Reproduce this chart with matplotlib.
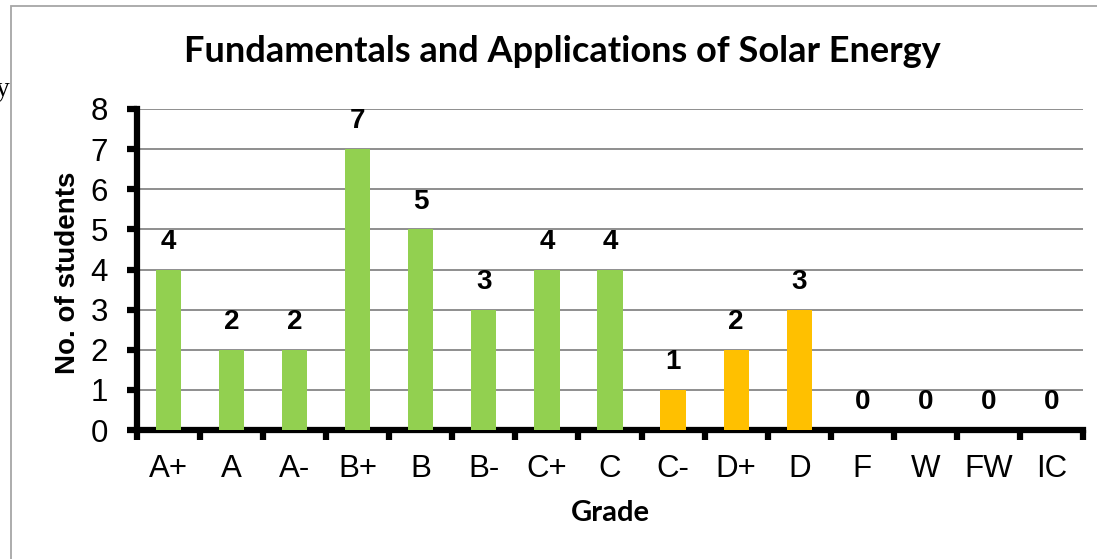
import matplotlib
matplotlib.use("Agg")
import matplotlib.pyplot as plt
from matplotlib.patches import Rectangle

# Data
grades = ["A+", "A", "A-", "B+", "B", "B-", "C+", "C", "C-", "D+", "D", "F", "W", "FW", "IC"]
students = [4, 2, 2, 7, 5, 3, 4, 4, 1, 2, 3, 0, 0, 0, 0]
passing_grades = ["A+", "A", "A-", "B+", "B", "B-", "C+", "C"]

GREEN = "#92D050"
ORANGE = "#FFC000"


def draw_plot():
    fig = plt.figure(figsize=(10.97, 5.59), dpi=100)
    ax = fig.add_axes([137 / 1097, 1 - 430 / 559, 946 / 1097, 321 / 559])

    # Outer chart border (runs off the right and bottom of the picture)
    fig.patches.append(Rectangle((11 / 1097, -0.5), 2.0, 1.5 - 6 / 559,
                                 transform=fig.transFigure, fill=False,
                                 edgecolor="#A6A6A6", linewidth=1.3))
    # clipped fragment of neighbouring text
    fig.text(11 / 1097, 1 - 90 / 559, "gy", ha="right", va="center",
             family="Liberation Serif", fontsize=20)

    x = list(range(len(grades)))
    colors = [GREEN if g in passing_grades else ORANGE for g in grades]
    ax.bar(x, students, width=0.4, color=colors, zorder=3)

    for xi, v in zip(x, students):
        ax.annotate(str(v), (xi, v), xytext=(0, 20), textcoords="offset points",
                    ha="center", va="center", fontsize=20, fontweight="bold",
                    family="Liberation Sans")

    ax.set_xlim(-0.5, len(grades) - 0.5)
    ax.set_ylim(0, 8)
    ax.set_yticks(range(0, 9))
    ax.yaxis.grid(True, color="#868686", linewidth=1.3, zorder=0)
    ax.set_axisbelow(True)

    ax.set_xticks(x)
    ax.set_xticklabels(grades, family="Liberation Sans", fontsize=22.5)
    ax.set_xticks([i - 0.5 for i in range(len(grades) + 1)], minor=True)
    ax.tick_params(axis="x", which="major", length=0, pad=17)
    ax.tick_params(axis="x", which="minor", length=7, width=4.5, direction="out")
    ax.tick_params(axis="y", length=7, width=4.5, direction="out", labelsize=22.5, pad=14)
    for lab in ax.get_yticklabels():
        lab.set_family("Liberation Sans")

    for side in ["top", "right"]:
        ax.spines[side].set_visible(False)
    for side in ["left", "bottom"]:
        ax.spines[side].set_linewidth(4.5)
        ax.spines[side].set_color("black")

    ax.set_xlabel("Grade", family="Lato", fontweight="bold", fontsize=21, va="center")
    ax.xaxis.set_label_coords(0.5, (430 - 513) / 321)
    ax.set_ylabel("No. of students", family="Liberation Sans", fontweight="bold",
                  fontsize=20, va="center")
    ax.yaxis.set_label_coords((68 - 137) / 946, 0.49)
    fig.text(562 / 1097, 1 - 52 / 559, "Fundamentals and Applications of Solar Energy",
             ha="center", va="center", family="Lato", fontweight="bold", fontsize=26)

    fig.savefig("out.png", dpi=100)


if __name__ == "__main__":
    draw_plot()
